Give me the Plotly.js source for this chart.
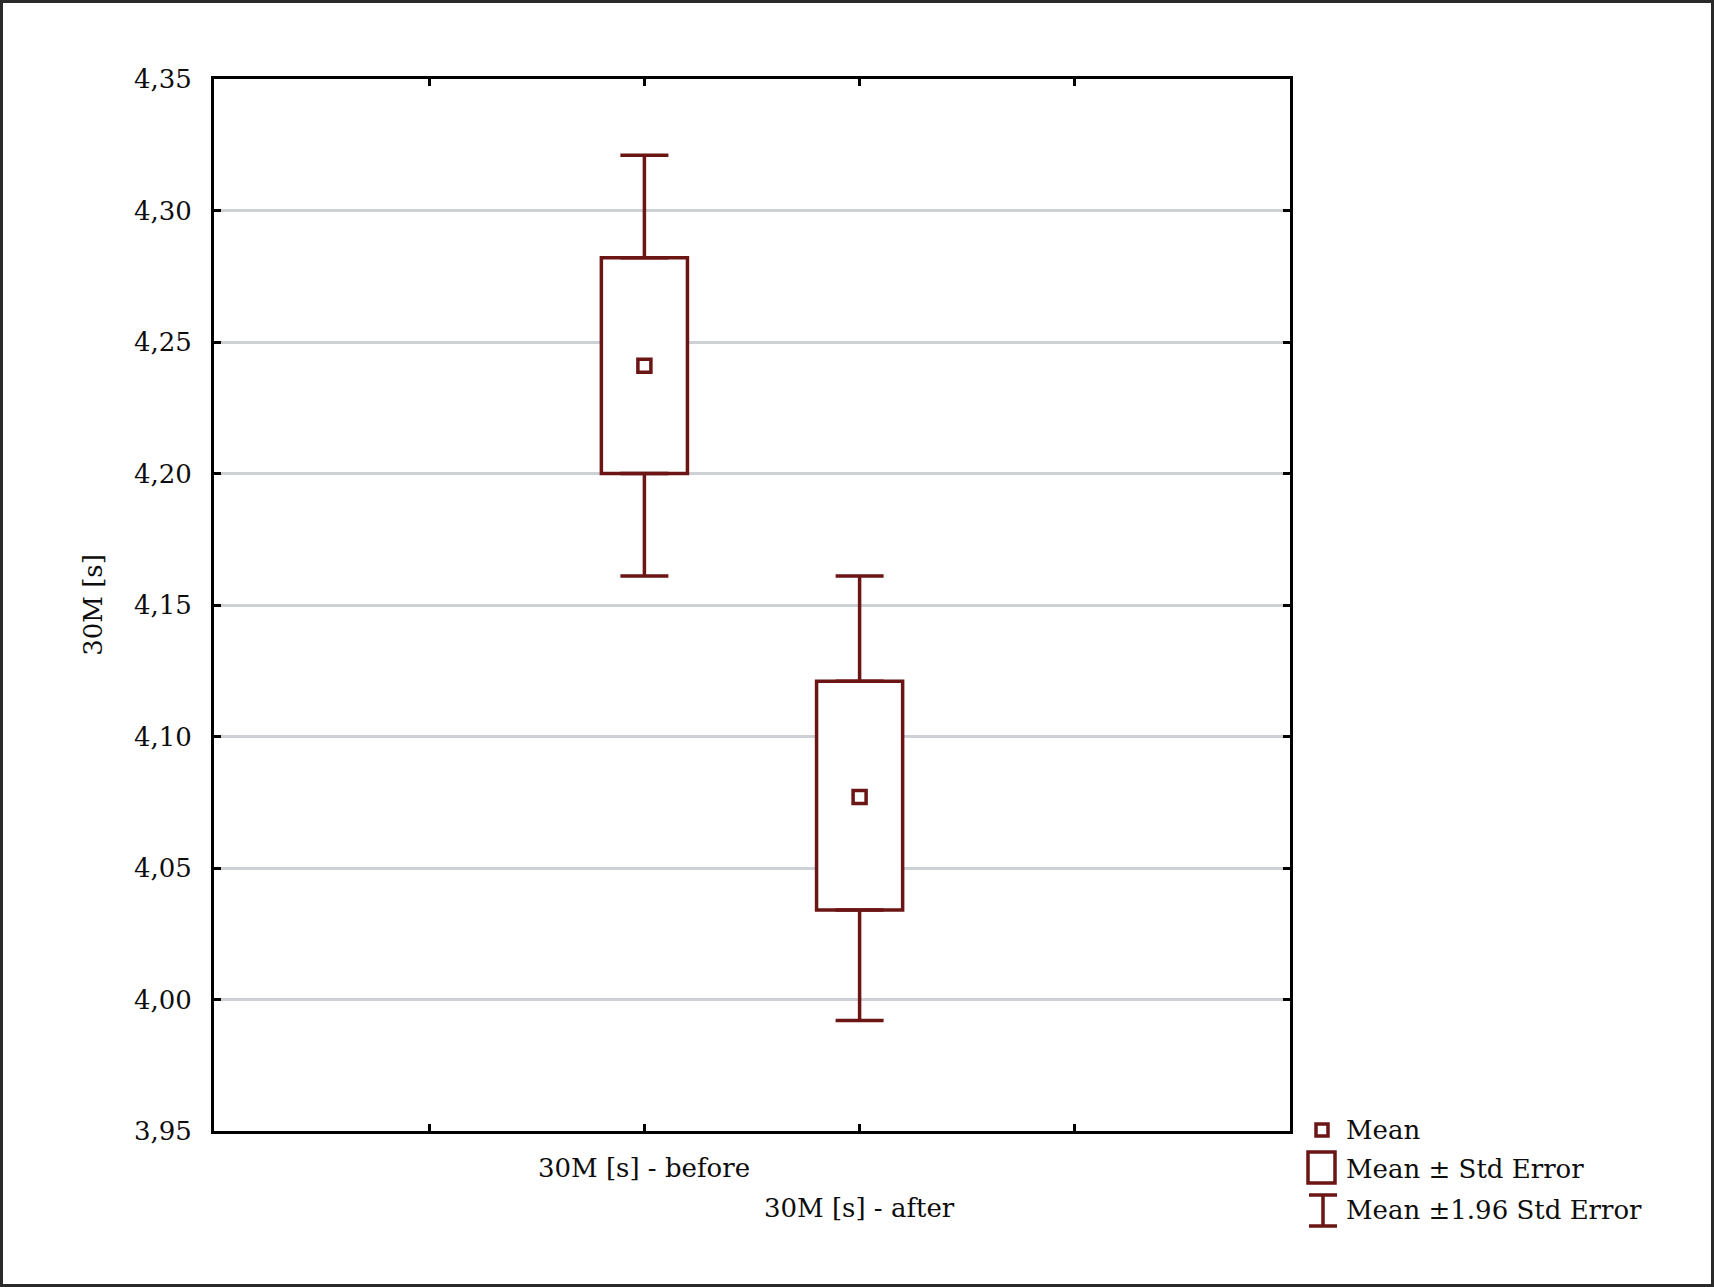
<!DOCTYPE html>
<html>
<head>
<meta charset="utf-8">
<script src="https://cdn.plot.ly/plotly-3.0.1.min.js"></script>
<style>
  html, body { margin: 0; padding: 0; background: #ffffff; }
  #wrap { position: relative; width: 1714px; height: 1287px; }
  #chart { width: 1714px; height: 1287px; }
  #frame { position: absolute; left: 0; top: 0; width: 1714px; height: 1287px;
           box-sizing: border-box; border: 3px solid #2a2a2a; pointer-events: none; }
</style>
</head>
<body>
<div id="wrap"><div id="chart"></div><div id="frame"></div></div>
<script>
// ---- data ----
const categories = ['30M [s] - before', '30M [s] - after'];
const means      = [4.241, 4.077];
const seLow      = [4.200, 4.034];
const seHigh     = [4.282, 4.121];
const ci95Low    = [4.161, 3.992];
const ci95High   = [4.321, 4.161];
const yTickVals  = [3.95, 4.00, 4.05, 4.10, 4.15, 4.20, 4.25, 4.30, 4.35];
const yTitle     = '30M [s]';
const legendLabels = ['Mean', 'Mean \u00b1 Std Error', 'Mean \u00b11.96 Std Error'];

// ---- styling ----
const C = '#6b1515';
const FONT = { family: 'DejaVu Serif, Liberation Serif, serif', size: 26, color: '#0d0d0d' };
const M = { l: 214, r: 424, t: 79, b: 156 };
const W = 1714, H = 1287;
const PW = W - M.l - M.r, PH = H - M.t - M.b;
const px = x => (x - M.l) / PW;
const py = y => (H - M.b - y) / PH;
const LW = 3.5;

const xs = categories.map((_, i) => i + 2);

const traces = [
  {
    type: 'bar', x: xs, base: seLow, y: seHigh.map((v, i) => v - seLow[i]),
    width: 0.4, marker: { color: '#ffffff', line: { color: C, width: LW } },
    showlegend: false, hoverinfo: 'skip'
  },
  {
    type: 'scatter', mode: 'markers', x: xs, y: seHigh,
    marker: { size: 1, opacity: 0 },
    error_y: { type: 'data', symmetric: false,
      array: ci95High.map((v, i) => v - seHigh[i]), arrayminus: seHigh.map(() => 0),
      width: 24, thickness: LW, color: C },
    showlegend: false, hoverinfo: 'skip'
  },
  {
    type: 'scatter', mode: 'markers', x: xs, y: seLow,
    marker: { size: 1, opacity: 0 },
    error_y: { type: 'data', symmetric: false,
      array: seLow.map(() => 0), arrayminus: seLow.map((v, i) => v - ci95Low[i]),
      width: 24, thickness: LW, color: C },
    showlegend: false, hoverinfo: 'skip'
  },
  {
    type: 'scatter', mode: 'markers', x: xs, y: means,
    marker: { symbol: 'square-open', size: 13, color: C, line: { color: C, width: LW } },
    showlegend: false
  }
];

const rowY = [py(1168), py(1208)];
const annotations = categories.map((c, i) => ({
  text: c, x: xs[i], xref: 'x', y: rowY[i % 2], yref: 'paper',
  xanchor: 'center', yanchor: 'middle', showarrow: false, font: FONT
}));
const legY = [1130, 1169, 1210];
legendLabels.forEach((t, i) => annotations.push({
  text: t, x: px(1344), xref: 'paper', y: py(legY[i]), yref: 'paper',
  xanchor: 'left', yanchor: 'middle', showarrow: false, font: FONT
}));

const shapes = [
  { type: 'rect', xref: 'paper', yref: 'paper', x0: px(1316), x1: px(1328), y0: py(1136), y1: py(1124),
    line: { color: C, width: LW }, fillcolor: 'rgba(0,0,0,0)' },
  { type: 'rect', xref: 'paper', yref: 'paper', x0: px(1308), x1: px(1335), y0: py(1183), y1: py(1152),
    line: { color: C, width: LW }, fillcolor: 'rgba(0,0,0,0)' },
  { type: 'line', xref: 'paper', yref: 'paper', x0: px(1309), x1: px(1337), y0: py(1195), y1: py(1195),
    line: { color: C, width: LW } },
  { type: 'line', xref: 'paper', yref: 'paper', x0: px(1323), x1: px(1323), y0: py(1195), y1: py(1226),
    line: { color: C, width: LW } },
  { type: 'line', xref: 'paper', yref: 'paper', x0: px(1309), x1: px(1337), y0: py(1226), y1: py(1226),
    line: { color: C, width: LW } }
];

const axisCommon = {
  showline: true, linewidth: 3, linecolor: '#000000', mirror: 'ticks',
  ticks: 'inside', ticklen: 7, tickwidth: 3, tickcolor: '#000000',
  zeroline: false, fixedrange: true
};

const layout = {
  width: W, height: H, margin: M,
  paper_bgcolor: '#ffffff', plot_bgcolor: '#ffffff',
  separators: ', ',
  showlegend: false,
  xaxis: Object.assign({}, axisCommon, {
    range: [0, 5], tickvals: [1, 2, 3, 4], showticklabels: false, showgrid: false
  }),
  yaxis: Object.assign({}, axisCommon, {
    range: [3.95, 4.35], tickvals: yTickVals, tickformat: '.2f',
    showgrid: true, gridcolor: '#cdd1d5', gridwidth: 3,
    tickfont: FONT, ticklabelstandoff: 14,
    title: { text: yTitle, font: FONT, standoff: 24 }
  }),
  annotations: annotations,
  shapes: shapes
};

Plotly.newPlot('chart', traces, layout, { staticPlot: true, displayModeBar: false });
</script>
</body>
</html>
